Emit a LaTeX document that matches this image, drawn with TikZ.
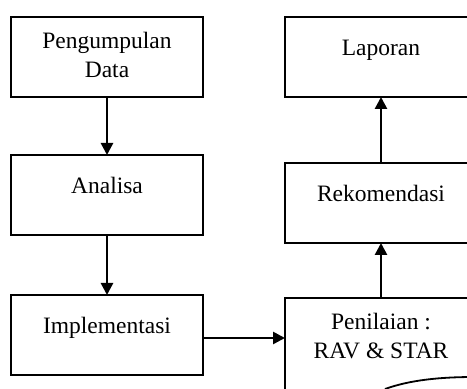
\documentclass[tikz,border=0pt]{standalone}
\usepackage{fontspec}
\setmainfont{Liberation Serif}
\usetikzlibrary{arrows.meta}
\tikzset{
  kotak/.style={draw,line width=2.2pt,minimum width=192pt,minimum height=80pt,inner sep=0pt,outer sep=0pt},
  teks/.style={font=\fontsize{23.5}{29}\selectfont,align=center,inner sep=0pt},
  panah/.style={line width=2.6pt,-{Triangle[length=12pt,width=12pt]}}
}
\begin{document}
\begin{tikzpicture}[x=1pt,y=1pt]
        \path[use as bounding box,clip] (0,0) rectangle (467,389);
        \node[kotak] (pd) at (107,332) {};
        \node[kotak] (an) at (107,194) {};
        \node[kotak] (im) at (107,54) {};
        \node[kotak] (lp) at (381,332) {};
        \node[kotak] (rk) at (381,186) {};
        \node[kotak,minimum height=130pt] (pn) at (381,26) {};
        \node[teks] (tpd) at ([yshift=-38pt]pd.north) {Pengumpulan\\Data};
        \node[teks,anchor=base] (tan) at ([yshift=-39pt]an.north) {Analisa};
        \node[teks,anchor=base] (tim) at ([yshift=-39pt]im.north) {Implementasi};
        \node[teks,anchor=base] (tlp) at ([yshift=-39pt]lp.north) {Laporan};
        \node[teks,anchor=base] (trk) at ([yshift=-39pt]rk.north) {Rekomendasi};
        \node[teks] (tpn) at ([yshift=-38pt]pn.north) {Penilaian :\\RAV \& STAR};
        \draw[panah] (pd.south) -- (an.north);
        \draw[panah] (an.south) -- (im.north);
        \draw[panah] ([yshift=-3pt]im.east) -- ([yshift=-3pt]im.east -| pn.west);
        \draw[panah] (pn.north) -- (rk.south);
        \draw[panah] (rk.north) -- (lp.south);
        \draw[line width=1.8pt] (385,0) .. controls (410,9) and (440,12) .. (475,12);
      \end{tikzpicture}
\end{document}
